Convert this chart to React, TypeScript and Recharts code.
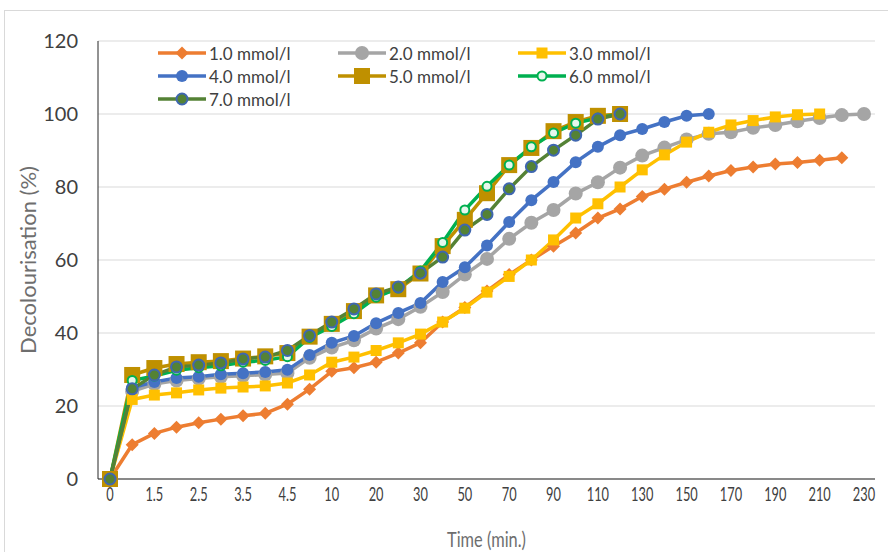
import React from 'react';
import { LineChart, Line, XAxis, YAxis, CartesianGrid } from 'recharts';

const TIMES = [
  '0', '1', '1.5', '2', '2.5', '3', '3.5', '4', '4.5', '5', '10', '15', '20', '25', '30',
  '40', '50', '60', '70', '80', '90', '100', '110', '120', '130', '140', '150', '160',
  '170', '180', '190', '200', '210', '220', '230',
];

const C1 = [0, 9.4, 12.5, 14.2, 15.4, 16.4, 17.3, 18, 20.5, 24.6, 29.5, 30.5, 32, 34.5, 37.3,
  43, 47, 51.5, 56, 60, 63.8, 67.4, 71.5, 74, 77.4, 79.4, 81.3, 83, 84.5, 85.5, 86.3, 86.7, 87.3, 88];
const C2 = [0, 24, 26, 27, 27.5, 28, 28.3, 28.6, 29, 33.2, 36, 38, 41.2, 43.8, 47.2,
  51.2, 56, 60.3, 65.8, 70.2, 73.7, 78.2, 81.3, 85.3, 88.6, 90.8, 93, 94.6, 95, 96.2, 97, 98, 98.9, 99.7, 100];
const C3 = [0, 21.8, 23, 23.6, 24.4, 24.9, 25.2, 25.5, 26.3, 28.5, 32, 33.4, 35.2, 37.3, 39.7,
  43, 46.8, 51.2, 55.5, 60, 65.5, 71.5, 75.4, 80, 84.7, 88.8, 92.3, 95, 97, 98.2, 99.2, 99.8, 100];
const C4 = [0, 25, 26.6, 27.7, 28, 28.7, 29, 29.3, 29.9, 34, 37.3, 39.2, 42.7, 45.5, 48.2,
  54, 58, 64, 70.4, 76.4, 81.4, 86.8, 91, 94.2, 95.9, 97.8, 99.5, 100];
const C5 = [0, 28.5, 30.4, 31.5, 32, 32.3, 33, 33.6, 34.5, 39, 42.5, 46, 50.3, 52, 56.3,
  63.8, 71, 78.3, 86, 90.7, 95.3, 97.8, 99.5, 100];
const C6 = [0, 27, 28.2, 29.8, 30.5, 31, 32, 32.5, 33.5, 38.8, 41.8, 45.3, 49.8, 52.3, 57,
  64.8, 73.7, 80.2, 86, 91, 94.8, 97.5, 98.9, 100];
const C7 = [0, 24.7, 28.5, 30.7, 31.2, 31.8, 32.9, 33.4, 35.2, 39.3, 43, 46.6, 50.7, 52.6, 56.4,
  60.8, 68.2, 72.5, 79.5, 85.6, 90.1, 94.2, 98.6, 100];

const Y_TICKS = [0, 20, 40, 60, 80, 100, 120];

type Shape = 'diamond' | 'square' | 'circle';
interface Series {
  key: string;
  name: string;
  values: number[];
  color: string;
  shape: Shape;
  size: number;
  fill: string;
  stroke?: string;
}

const SERIES: Series[] = [
  { key: 'c1', name: '1.0 mmol/l', values: C1, color: '#ED7D31', shape: 'diamond', size: 6.5, fill: '#ED7D31' },
  { key: 'c2', name: '2.0 mmol/l', values: C2, color: '#A5A5A5', shape: 'circle', size: 7, fill: '#A5A5A5' },
  { key: 'c3', name: '3.0 mmol/l', values: C3, color: '#FFC000', shape: 'square', size: 5.5, fill: '#FFC000' },
  { key: 'c4', name: '4.0 mmol/l', values: C4, color: '#4472C4', shape: 'circle', size: 6, fill: '#4472C4' },
  { key: 'c5', name: '5.0 mmol/l', values: C5, color: '#BF9000', shape: 'square', size: 8, fill: '#BF9000' },
  { key: 'c6', name: '6.0 mmol/l', values: C6, color: '#00B050', shape: 'circle', size: 5.5, fill: '#E6F7EC', stroke: '#00B050' },
  { key: 'c7', name: '7.0 mmol/l', values: C7, color: '#548235', shape: 'circle', size: 6.5, fill: '#548235', stroke: '#3F67B0' },
];

const data = TIMES.map((t, i) => {
  const row: Record<string, string | number | undefined> = { t };
  SERIES.forEach(s => {
    row[s.key] = s.values[i];
  });
  return row;
});

function Marker({ s, cx, cy }: { s: Series; cx: number; cy: number }) {
  const r = s.size;
  if (s.shape === 'diamond') {
    return <path d={`M${cx},${cy - r}L${cx + r},${cy}L${cx},${cy + r}L${cx - r},${cy}Z`} fill={s.fill} />;
  }
  if (s.shape === 'square') {
    return <rect x={cx - r} y={cy - r} width={r * 2} height={r * 2} fill={s.fill} />;
  }
  return (
    <circle
      cx={cx}
      cy={cy}
      r={s.stroke ? r - 1 : r}
      fill={s.fill}
      stroke={s.stroke || 'none'}
      strokeWidth={s.stroke ? 2 : 0}
    />
  );
}

const makeDot = (s: Series) => (props: any) => {
  const { cx, cy, index } = props;
  if (cx == null || cy == null || props.value == null) return <g key={`${s.key}-${index}`} />;
  return (
    <g key={`${s.key}-${index}`}>
      <Marker s={s} cx={cx} cy={cy} />
    </g>
  );
};

const XTick = (props: any) => {
  const { x, y, payload } = props;
  return (
    <g transform={`translate(${x},${y})`}>
      <text
        transform="scale(0.64,1)"
        textAnchor="middle"
        dy="0.71em"
        fontSize={20}
        fontFamily="Lato, sans-serif"
        fill="#404040"
      >
        {payload.value}
      </text>
    </g>
  );
};

const XTitle = (props: any) => {
  const { viewBox } = props;
  const cx = viewBox.x + viewBox.width / 2;
  return (
    <g transform={`translate(${cx},${547})`}>
      <text transform="scale(0.78,1)" textAnchor="middle" fontSize={21} fontFamily="Lato, sans-serif" fill="#6E6E6E">
        Time (min.)
      </text>
    </g>
  );
};

const YTitle = (props: any) => {
  const { viewBox } = props;
  const cy = viewBox.y + viewBox.height / 2;
  return (
    <text
      x={0}
      y={0}
      transform={`translate(36,${cy}) rotate(-90)`}
      textAnchor="middle"
      fontSize={22}
      fontFamily="Lato, sans-serif"
      fill="#6E6E6E"
    >
      Decolourisation (%)
    </text>
  );
};

function LegendBox() {
  const cols = [157, 337, 517];
  const rows = [53, 76, 99];
  return (
    <div style={{ position: 'absolute', left: 0, top: 0, width: 888, height: 140, pointerEvents: 'none' }}>
      {SERIES.map((s, i) => {
        const left = cols[i % 3];
        const top = rows[Math.floor(i / 3)];
        return (
          <div key={s.key} style={{ position: 'absolute', left, top: top - 12, height: 24, display: 'flex', alignItems: 'center' }}>
            <svg width={50} height={24} style={{ display: 'block' }}>
              <line x1={1} y1={12} x2={49} y2={12} stroke={s.color} strokeWidth={3.5} />
              <Marker s={s} cx={25} cy={12} />
            </svg>
            <span style={{ fontFamily: 'Lato, sans-serif', fontSize: 17, color: '#404040', marginLeft: 2, whiteSpace: 'nowrap' }}>
              {s.name}
            </span>
          </div>
        );
      })}
    </div>
  );
}

export default function App() {
  return (
    <div style={{ position: 'absolute', left: 0, top: 0, width: 888, height: 552, overflow: 'hidden', background: '#fff' }}>
      <div
        style={{
          position: 'absolute',
          left: 4,
          top: 10,
          width: 900,
          height: 600,
          border: '1px solid #D9D9D9',
        }}
      />
      <div style={{ position: 'absolute', left: 0, top: 0 }}>
        <LineChart width={888} height={552} data={data} margin={{ top: 41, right: 13, bottom: 13, left: 0 }}>
          <CartesianGrid vertical={false} stroke="#D9D9D9" strokeWidth={1} />
          <XAxis
            dataKey="t"
            type="category"
            interval={1}
            padding={{ left: 12, right: 11 }}
            tickLine={false}
            axisLine={{ stroke: '#262626', strokeWidth: 1 }}
            tick={<XTick />}
            height={60}
            label={<XTitle />}
          />
          <YAxis
            domain={[0, 120]}
            ticks={Y_TICKS}
            interval={0}
            width={98}
            tickLine={false}
            tickMargin={14}
            axisLine={{ stroke: '#262626', strokeWidth: 1 }}
            tick={{ fontFamily: 'Lato, sans-serif', fontSize: 20, fill: '#404040' }}
            label={<YTitle />}
          />
          {SERIES.map(s => (
            <Line
              key={s.key}
              dataKey={s.key}
              name={s.name}
              stroke={s.color}
              strokeWidth={3.5}
              type="linear"
              dot={makeDot(s)}
              activeDot={false}
              isAnimationActive={false}
            />
          ))}
        </LineChart>
      </div>
      <LegendBox />
    </div>
  );
}
